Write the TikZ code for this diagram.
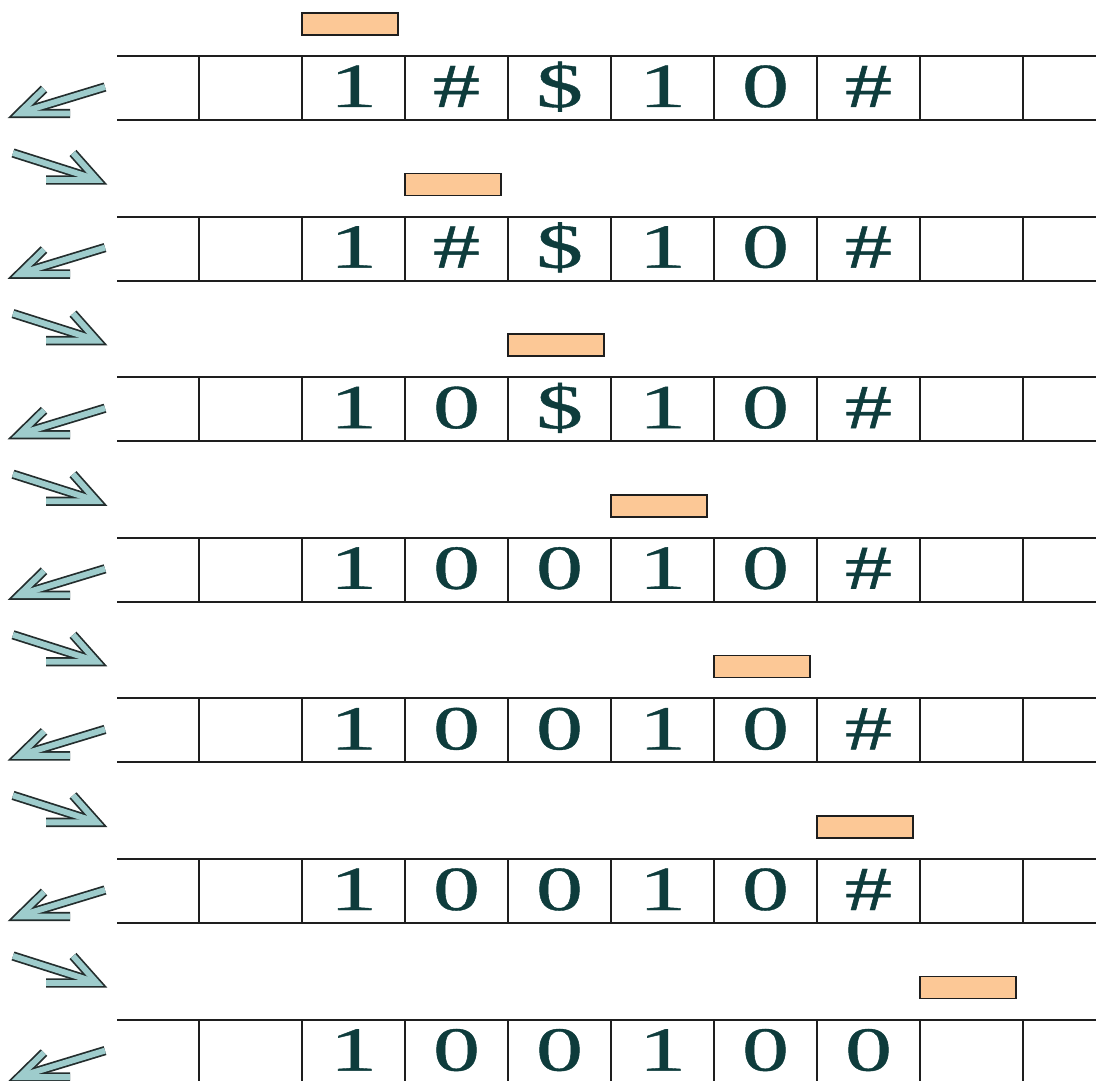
\documentclass[tikz,border=0pt]{standalone}
\usepackage{fontspec}
\setmainfont{Liberation Serif}
\newfontfamily\symfont[FakeBold=0.6]{Liberation Serif}
\usepackage{graphicx}
\definecolor{symcol}{RGB}{14,60,60}
\definecolor{arrfill}{RGB}{158,204,204}
\definecolor{arrline}{RGB}{35,45,45}
\definecolor{headfill}{RGB}{252,200,150}
\definecolor{inkline}{RGB}{30,30,30}
\newcommand\mysym[1]{\scalebox{1.5}[1]{#1}}
\newcommand\taperow[7]{%
  \pgfmathsetmacro\tT{56+160.6*#1}
  \draw[tapeline] (117,\tT) -- (1096,\tT) (117,\tT+64) -- (1096,\tT+64);
  \foreach \j in {0,...,8} {\draw[tapeline] ({199+103*\j},\tT) -- ++(0,64);}
  \draw[headbox] ({302+103*#1},\tT-43) rectangle ++(96,22);
  \node[sym] (s#1a) at (353.5,\tT+51) {\mysym{#2}};
  \node[sym] (s#1b) at (456.5,\tT+51) {\mysym{#3}};
  \node[sym] (s#1c) at (559.5,\tT+51) {\mysym{#4}};
  \node[sym] (s#1d) at (662.5,\tT+51) {\mysym{#5}};
  \node[sym] (s#1e) at (765.5,\tT+51) {\mysym{#6}};
  \node[sym] (s#1f) at (868.5,\tT+51) {\mysym{#7}};
  % left-down arrow
  \foreach \st in {arrouter,arrinner} {
    \draw[\st] (105,\tT+31) -- (26,\tT+55);
    \draw[\st] (44,\tT+33) -- (19,\tT+57.5) -- (70,\tT+57.5);
  }
}
\newcommand\rightarr[1]{%
  \pgfmathsetmacro\tT{56+160.6*#1}
  \foreach \st in {arrouter,arrinner} {
    \draw[\st] (13,\tT+97) -- (90,\tT+121.5);
    \draw[\st] (73,\tT+97) -- (97,\tT+124) -- (46,\tT+124);
  }
}
\begin{document}
\begin{tikzpicture}[x=0.75pt,y=-0.75pt,
  tapeline/.style={line width=1.5pt,draw=inkline},
  headbox/.style={draw=inkline,line width=1.3pt,fill=headfill},
  sym/.style={text=symcol,font=\symfont\fontsize{47}{50}\selectfont,anchor=base,inner sep=0pt},
  arrouter/.style={draw=arrline,line width=7pt,line cap=butt,line join=miter,miter limit=10},
  arrinner/.style={draw=arrfill,line width=4.4pt,line cap=butt,line join=miter,miter limit=10},
]
\useasboundingbox (0,0) rectangle (1096,1081);
\clip (0,0) rectangle (1096,1081);
\fill[white] (0,0) rectangle (1096,1081);
\taperow{0}{1}{\#}{\$}{1}{0}{\#}
\taperow{1}{1}{\#}{\$}{1}{0}{\#}
\taperow{2}{1}{0}{\$}{1}{0}{\#}
\taperow{3}{1}{0}{0}{1}{0}{\#}
\taperow{4}{1}{0}{0}{1}{0}{\#}
\taperow{5}{1}{0}{0}{1}{0}{\#}
\taperow{6}{1}{0}{0}{1}{0}{0}
\foreach \k in {0,...,5} {\rightarr{\k}}
\end{tikzpicture}
\end{document}
